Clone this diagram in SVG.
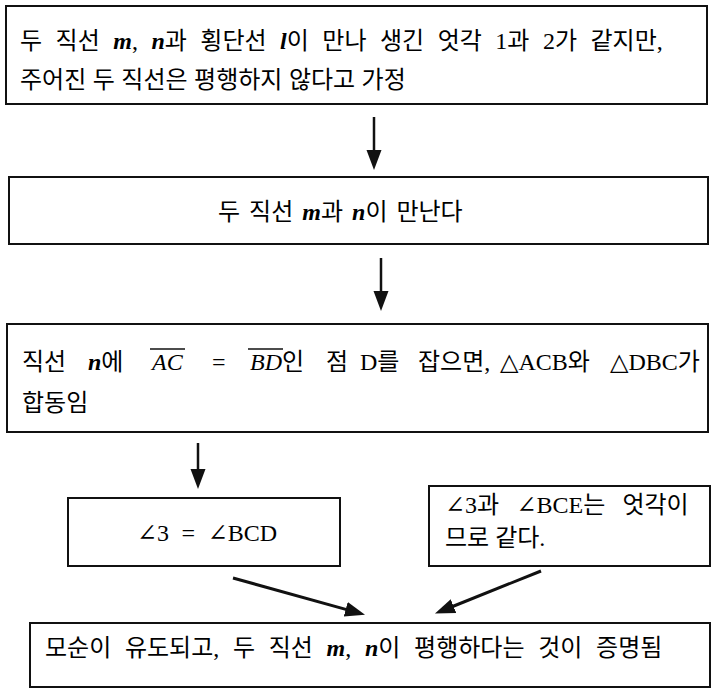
<svg xmlns="http://www.w3.org/2000/svg" width="713" height="689" viewBox="0 0 713 689">
<style>
.box{fill:#fff;stroke:#111;stroke-width:2}
.t{font-family:'Liberation Serif','DejaVu Serif','Noto Sans CJK KR',serif;font-size:24px;fill:#000}
.i{font-style:italic}
.v{font-style:italic;font-weight:bold}
.ln{stroke:#111;stroke-width:2.5;fill:none}
.ol{stroke:#111;stroke-width:1.5}
</style>
<defs>
<marker id="ah" markerUnits="userSpaceOnUse" markerWidth="22" markerHeight="18" viewBox="0 -9 22 18" refX="1" refY="0" orient="auto">
<path d="M0,-7.5 L20,0 L0,7.5 Z" fill="#111"/>
</marker>
</defs>
<rect width="713" height="689" fill="#fff"/>
<g id="connectors">
<line class="ln" x1="374" y1="117" x2="374" y2="151" marker-end="url(#ah)"/>
<line class="ln" x1="381" y1="258" x2="381" y2="292" marker-end="url(#ah)"/>
<line class="ln" x1="198" y1="443" x2="198" y2="470" marker-end="url(#ah)"/>
<line class="ln" style="stroke-width:3" x1="233" y1="578" x2="346.7" y2="609.6" marker-end="url(#ah)"/>
<line class="ln" style="stroke-width:3" x1="541" y1="571" x2="452.6" y2="606.5" marker-end="url(#ah)"/>
</g>
<g id="node1">
<rect class="box" x="6" y="6" width="701" height="98"/>
<text class="t" x="20" y="49" word-spacing="7.5">두 직선 <tspan class="v">m</tspan>, <tspan class="v">n</tspan>과 횡단선 <tspan class="v">l</tspan>이 만나 생긴 엇각 1과 2가 같지만,</text>
<text class="t" x="20" y="88" word-spacing="0.5">주어진 두 직선은 평행하지 않다고 가정</text>
</g>
<g id="node2">
<rect class="box" x="9" y="177" width="699" height="67"/>
<text class="t" x="218" y="220" word-spacing="3">두 직선 <tspan class="v">m</tspan>과 <tspan class="v">n</tspan>이 만난다</text>
</g>
<g id="node3">
<rect class="box" x="7" y="324" width="701" height="108"/>
<text class="t" x="22" y="370">직선</text>
<text class="t" x="88" y="370"><tspan class="v">n</tspan>에</text>
<text class="t i" x="152" y="370">AC</text>
<line class="ol" x1="150" y1="349" x2="185" y2="349"/>
<text class="t" x="212" y="370">=</text>
<text class="t" x="250" y="370"><tspan class="i">BD</tspan>인</text>
<line class="ol" x1="248" y1="349" x2="283" y2="349"/>
<text class="t" x="326" y="370">점</text>
<text class="t" x="360" y="370">D를</text>
<text class="t" x="418" y="370">잡으면,</text>
<text class="t" x="500" y="370">△ACB와</text>
<text class="t" x="610" y="370">△DBC가</text>
<text class="t" x="22" y="411">합동임</text>
</g>
<g id="node4">
<rect class="box" x="68" y="498" width="272" height="68"/>
<text class="t" x="137" y="541" word-spacing="6.5">∠3 = ∠BCD</text>
</g>
<g id="node5">
<rect class="box" x="429" y="486" width="281" height="80"/>
<text class="t" x="445" y="513" word-spacing="11.2">∠3과 ∠BCE는 엇각이</text>
<text class="t" x="445" y="546">므로 같다.</text>
</g>
<g id="node6">
<rect class="box" x="30" y="623" width="680" height="64"/>
<text class="t" x="45" y="656" word-spacing="7.7">모순이 유도되고, 두 직선 <tspan class="v">m</tspan>, <tspan class="v">n</tspan>이 평행하다는 것이 증명됨</text>
</g>
</svg>
